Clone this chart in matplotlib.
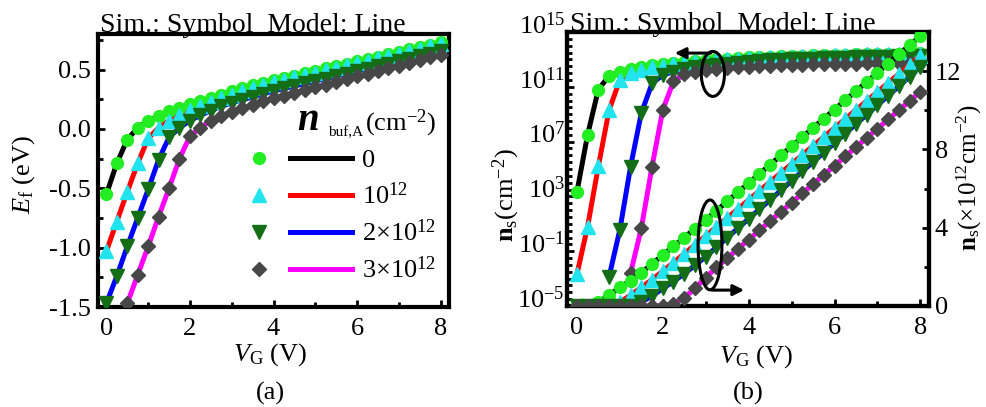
import numpy as np
import matplotlib
matplotlib.use('Agg')
import matplotlib.pyplot as plt
from matplotlib.patches import Ellipse
from matplotlib.lines import Line2D
from matplotlib.legend_handler import HandlerTuple
from matplotlib.transforms import ScaledTranslation
from matplotlib.ticker import FixedLocator, MultipleLocator, FuncFormatter, FormatStrFormatter, NullFormatter

plt.rcParams['font.family'] = 'Liberation Serif'
plt.rcParams['font.size'] = 19
plt.rcParams['mathtext.fontset'] = 'custom'
plt.rcParams['mathtext.rm'] = 'Liberation Serif'
plt.rcParams['mathtext.it'] = 'Liberation Serif:italic'
plt.rcParams['mathtext.bf'] = 'Liberation Serif:bold'
plt.rcParams['mathtext.bfit'] = 'Liberation Serif:italic:bold'
plt.rcParams['axes.unicode_minus'] = False

nan = np.nan

# gate voltage (V)
vg = [0, 0.25, 0.5, 0.75, 1.0, 1.25, 1.5, 1.75, 2.0, 2.25, 2.5, 2.75, 3.0, 3.25, 3.5, 3.75,
      4.0, 4.25, 4.5, 4.75, 5.0, 5.25, 5.5, 5.75, 6.0, 6.25, 6.5, 6.75, 7.0, 7.25, 7.5, 7.75, 8.0]

# Fermi level E_f (eV), one list per buffer acceptor density
ef_0 = [-0.55, -0.29, -0.09, 0.01, 0.07, 0.11, 0.15, 0.18, 0.21, 0.235, 0.26, 0.29, 0.32, 0.345, 0.37, 0.39,
        0.41, 0.43, 0.45, 0.47, 0.49, 0.51, 0.53, 0.55, 0.57, 0.59, 0.61, 0.63, 0.65, 0.67, 0.69, 0.71, 0.73]
ef_1 = [-1.03, -0.78, -0.53, -0.29, -0.08, 0.01, 0.07, 0.12, 0.16, 0.19, 0.23, 0.26, 0.29, 0.32, 0.345, 0.37,
        0.395, 0.415, 0.435, 0.455, 0.475, 0.495, 0.515, 0.535, 0.555, 0.575, 0.595, 0.615, 0.635, 0.655, 0.675, 0.695, 0.715]
ef_2 = [-1.47, -1.24, -0.99, -0.75, -0.51, -0.26, -0.07, 0.01, 0.07, 0.115, 0.155, 0.19, 0.22, 0.245, 0.27, 0.295,
        0.32, 0.341, 0.362, 0.383, 0.404, 0.425, 0.446, 0.467, 0.488, 0.509, 0.53, 0.551, 0.572, 0.593, 0.614, 0.635, 0.656]
ef_3 = [nan, nan, -1.47, -1.23, -0.99, -0.74, -0.50, -0.25, -0.06, 0.01, 0.07, 0.11, 0.145, 0.175, 0.205, 0.235,
        0.258, 0.281, 0.304, 0.327, 0.35, 0.373, 0.396, 0.419, 0.442, 0.465, 0.488, 0.511, 0.534, 0.557, 0.58, 0.603, 0.626]

# log10 of sheet density n_s (cm^-2)
logns_0 = [3.3, 7.5, 10.8, 11.8, 12.1, 12.3, 12.45, 12.58, 12.68, 12.76, 12.83, 12.9, 12.96, 13.01, 13.06, 13.1,
           13.14, 13.17, 13.2, 13.23, 13.25, 13.27, 13.29, 13.31, 13.33, 13.35, 13.37, 13.38, 13.4, 13.41, 13.43, 13.44, 13.45]
logns_1 = [-2.7, 0.8, 5.2, 9.3, 11.5, 12.0, 12.25, 12.42, 12.55, 12.65, 12.74, 12.82, 12.89, 12.95, 13.0, 13.05,
           13.09, 13.13, 13.16, 13.19, 13.21, 13.24, 13.26, 13.28, 13.3, 13.32, 13.34, 13.36, 13.37, 13.39, 13.4, 13.42, 13.43]
logns_2 = [nan, nan, nan, -2.86, 0.55, 5.17, 9.07, 11.25, 11.86, 12.1, 12.28, 12.42, 12.53, 12.62, 12.7, 12.77,
           12.83, 12.88, 12.92, 12.96, 13.0, 13.03, 13.06, 13.08, 13.11, 13.13, 13.15, 13.17, 13.19, 13.21, 13.22, 13.24, 13.25]
logns_3 = [nan, nan, nan, nan, nan, -2.6, 0.67, 5.17, 9.3, 11.4, 11.9, 12.08, 12.2, 12.29, 12.36, 12.42,
           12.47, 12.51, 12.54, 12.57, 12.6, 12.62, 12.64, 12.66, 12.68, 12.69, 12.7, 12.71, 12.72, 12.73, 12.74, 12.75, 12.76]

# sheet density n_s (1e12 cm^-2), linear scale
ns_0 = [0, 0.02, 0.2, 0.55, 0.95, 1.3, 1.7, 2.15, 2.6, 3.05, 3.5, 3.95, 4.4, 4.87, 5.34, 5.81,
        6.28, 6.75, 7.22, 7.69, 8.16, 8.63, 9.1, 9.57, 10.04, 10.51, 10.98, 11.45, 11.92, 12.39, 12.86, 13.33, 13.8]
ns_1 = [0, 0, 0, 0.02, 0.2, 0.55, 0.95, 1.35, 1.78, 2.22, 2.67, 3.12, 3.58, 4.04, 4.5, 4.96,
        5.42, 5.88, 6.34, 6.8, 7.26, 7.72, 8.18, 8.64, 9.1, 9.56, 10.02, 10.48, 10.94, 11.4, 11.86, 12.32, 12.78]
ns_2 = [0, 0, 0, 0, 0, 0.02, 0.2, 0.5, 0.9, 1.25, 1.65, 2.08, 2.52, 3.0, 3.49, 3.97,
        4.46, 4.94, 5.42, 5.91, 6.39, 6.88, 7.36, 7.84, 8.33, 8.81, 9.3, 9.78, 10.26, 10.75, 11.23, 11.72, 12.2]
ns_3 = [0, 0, 0, 0, 0, 0, 0, 0, 0.02, 0.12, 0.42, 0.9, 1.45, 1.97, 2.44, 2.92,
        3.39, 3.86, 4.34, 4.81, 5.28, 5.75, 6.23, 6.7, 7.17, 7.64, 8.12, 8.59, 9.06, 9.53, 10.01, 10.48, 10.95]

ef_all = [ef_0, ef_1, ef_2, ef_3]
logns_all = [logns_0, logns_1, logns_2, logns_3]
ns_all = [ns_0, ns_1, ns_2, ns_3]
legend_labels = ['0', r'$10^{12}$', r'$2{\times}10^{12}$', r'$3{\times}10^{12}$']

line_colors = ['#000000', '#ff0000', '#0000ff', '#ff00ff']
mark_colors = ['#22ee22', '#22e4ee', '#136e16', '#474747']
markers = ['o', '^', 'v', 'D']
msizes = [8.5, 10, 10, 7]
LW = 3.6

fig = plt.figure(figsize=(9.87, 4.07), dpi=100)
ax1 = fig.add_axes([98/987, 1-307/407, 351/987, 273/407])
ax2 = fig.add_axes([567/987, 1-306/407, 362/987, 274/407])
ax3 = ax2.twinx()


def draw(ax, x, ys, log=False):
    for i in range(4):
        y = 10.0**np.array(ys[i]) if log else ys[i]
        ax.plot(x, y, '-', color=line_colors[i], lw=LW, zorder=2)
    for i in range(4):
        y = 10.0**np.array(ys[i]) if log else ys[i]
        ax.plot(x, y, ls='none', marker=markers[i], ms=msizes[i],
                mfc=mark_colors[i], mec=mark_colors[i], zorder=3)


# (a) Fermi level
draw(ax1, vg, ef_all)
ax1.set_xlim(-0.2, 8.2)
ax1.set_ylim(-1.5, 0.8)
ax1.xaxis.set_major_locator(MultipleLocator(2))
ax1.xaxis.set_minor_locator(MultipleLocator(1))
ax1.yaxis.set_major_locator(MultipleLocator(0.5))
ax1.yaxis.set_minor_locator(MultipleLocator(0.25))
ax1.yaxis.set_major_formatter(FormatStrFormatter('%.1f'))
ax1.tick_params(which='both', direction='in', width=2, top=False, right=False)
ax1.tick_params(which='major', length=5)
ax1.tick_params(which='minor', length=3.5)
ax1.tick_params(axis='x', pad=8)
ax1.tick_params(axis='y', pad=5)
ax1.set_xlabel(r'$V_{\rm G}$ (V)')
ax1.set_ylabel(r'$E_{\rm f}$ (eV)')
ax1.xaxis.set_label_coords(0.49, -0.125)
ax1.yaxis.set_label_coords(-0.174, 0.484)
ax1.text(0.006, 1.008, 'Sim.: Symbol  Model: Line', transform=ax1.transAxes,
         fontsize=20, va='baseline', ha='left')
ax1.text(0.49, -0.315, '(a)', transform=ax1.transAxes, ha='center', va='center')

handles = []
for i in range(4):
    hm = Line2D([], [], ls='none', marker=markers[i], ms=msizes[i], mfc=mark_colors[i], mec=mark_colors[i])
    hl = Line2D([], [], color=line_colors[i], lw=LW)
    handles.append((hm, hl))
ax1.legend(handles, legend_labels, handler_map={tuple: HandlerTuple(ndivide=None, pad=0.0)},
           loc='upper left', bbox_to_anchor=(0.37, 0.58), frameon=False, borderpad=0,
           borderaxespad=0, handlelength=4.7, handletextpad=0.4, labelspacing=0.4, fontsize=19)
ax1.text(0.567, 0.648, r'$\mathbfit{n}$', transform=ax1.transAxes, fontsize=28, va='baseline')
ax1.text(0.655, 0.625, 'buf,A', transform=ax1.transAxes, fontsize=11, va='baseline')
ax1.text(0.76, 0.648, r'(cm$^{-2}$)', transform=ax1.transAxes, fontsize=19, va='baseline')

# (b) sheet density, log (left) and linear (right)
draw(ax2, vg, logns_all, log=True)
draw(ax3, vg, ns_all)
ax2.set_yscale('log')
ax2.set_xlim(-0.23, 8.2)
ax2.set_ylim(1e-5, 1e15)
ax2.yaxis.set_major_locator(FixedLocator([1e-5, 1e-1, 1e3, 1e7, 1e11, 1e15]))
ax2.yaxis.set_minor_locator(FixedLocator(10.0**np.arange(-5, 15.01, 0.5)))
ax2.yaxis.set_major_formatter(FuncFormatter(lambda v, p: r'$10^{%d}$' % round(np.log10(v))))
ax2.yaxis.set_minor_formatter(NullFormatter())
ax2.xaxis.set_major_locator(MultipleLocator(2))
ax2.xaxis.set_minor_locator(MultipleLocator(1))
ax2.tick_params(which='both', direction='in', width=2, top=False, right=False)
ax2.tick_params(which='major', length=5)
ax2.tick_params(which='minor', length=3.5)
ax2.tick_params(axis='x', pad=8)
ax2.tick_params(axis='y', pad=1.5)

ax3.set_ylim(0, 14)
ax3.yaxis.set_major_locator(FixedLocator([0, 4, 8, 12]))
ax3.yaxis.set_minor_locator(MultipleLocator(2))
ax3.tick_params(which='both', direction='in', width=2, left=False, right=True)
ax3.tick_params(which='major', length=5, pad=4)
ax3.tick_params(which='minor', length=3.5)

ax2.set_xlabel(r'$V_{\rm G}$ (V)')
ax2.xaxis.set_label_coords(0.522, -0.135)
ax2.set_ylabel(r'$\mathbf{n}_{\rm s}$(cm$^{-2}$)')
ax2.yaxis.set_label_coords(-0.124, 0.405)
ax3.set_ylabel(r'$\mathbf{n}_{\rm s}$(×10$^{12}$cm$^{-2}$)', fontsize=18)
ax3.yaxis.set_label_coords(1.072, 0.467)
ax2.text(0.008, 1.004, 'Sim.: Symbol  Model: Line', transform=ax2.transAxes,
         fontsize=20, va='baseline', ha='left')
ax2.text(0.5, -0.318, '(b)', transform=ax2.transAxes, ha='center', va='center')

# guide ellipses and arrows pointing to each axis
ax3.add_patch(Ellipse((0.403, 0.847), 0.064, 0.164, transform=ax3.transAxes,
                      fill=False, lw=2.2, color='k', zorder=5))
ax3.annotate('', xy=(0.29, 0.923), xytext=(0.405, 0.923), xycoords='axes fraction',
             arrowprops=dict(arrowstyle='-|>', lw=2.2, color='k', mutation_scale=16), zorder=5)
ax3.add_patch(Ellipse((0.395, 0.223), 0.066, 0.328, transform=ax3.transAxes,
                      fill=False, lw=2.2, color='k', zorder=5))
ax3.annotate('', xy=(0.497, 0.058), xytext=(0.393, 0.058), xycoords='axes fraction',
             arrowprops=dict(arrowstyle='-|>', lw=2.2, color='k', mutation_scale=16), zorder=5)

for ax in (ax1, ax2, ax3):
    for sp in ax.spines.values():
        sp.set_linewidth(3)

# raise the power-of-ten labels a little so the mantissa sits level with its tick
fig.canvas.draw()
lift = ScaledTranslation(0, 6.5/72, fig.dpi_scale_trans)
for lab in ax2.yaxis.get_majorticklabels():
    lab.set_transform(lab.get_transform() + lift)

fig.savefig('out.png', dpi=100)
